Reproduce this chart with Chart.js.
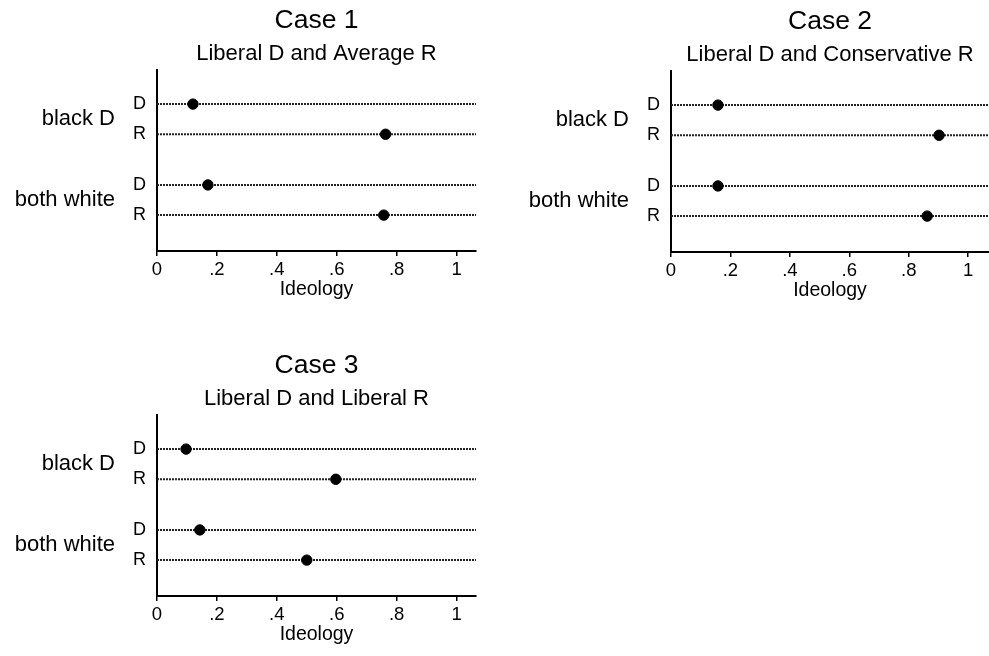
<!DOCTYPE html>
<html>
<head>
<meta charset="utf-8">
<script src="https://cdn.jsdelivr.net/npm/chart.js@4.4.1/dist/chart.umd.min.js"></script>
<style>
body { margin: 0; background: #fff; }
.panel { position: absolute; }
</style>
</head>
<body>
<div class="panel" style="left:0px;top:0px"><canvas id="graph0" width="490" height="310"></canvas></div>
<div class="panel" style="left:500px;top:1px"><canvas id="graph1" width="489" height="310"></canvas></div>
<div class="panel" style="left:0px;top:345px"><canvas id="graph2" width="490" height="310"></canvas></div>
<script>
var rowLabels = ['D', 'R', 'D', 'R'];
var groupLabels = ['black D', 'both white'];
var titles = ['Case 1', 'Case 2', 'Case 3'];
var subtitles = ['Liberal D and Average R', 'Liberal D and Conservative R', 'Liberal D and Liberal R'];
var xTickVals = [0, 0.2, 0.4, 0.6, 0.8, 1];
var xTickLabels = ['0', '.2', '.4', '.6', '.8', '1'];
// ideology per row: black D (D, R), both white (D, R)
var case1 = [0.12, 0.763, 0.17, 0.757];
var case2 = [0.158, 0.902, 0.158, 0.862];
var case3 = [0.097, 0.597, 0.143, 0.50];

var rowY = [4.87, 3.87, 2.19, 1.19]; // where each row sits on the 0-6 y scale
var fontFam = '"Liberation Sans", Arial, Helvetica, sans-serif';
var ink = '#000';

// titles and the group labels left of D/R
const labelPlugin = {
    id: 'labels',
    afterDraw(chart, args, opts) {
        const ctx = chart.ctx, area = chart.chartArea, y = chart.scales.y;
        const mid = (area.left + area.right) / 2;
        ctx.save();
        ctx.fillStyle = ink;
        ctx.textAlign = 'center';
        ctx.textBaseline = 'alphabetic';
        ctx.font = '26.5px ' + fontFam;
        ctx.fillText(opts.title, mid, 28);
        ctx.font = '22px ' + fontFam;
        ctx.fillText(opts.subtitle, mid, 60);
        ctx.textAlign = 'right';
        ctx.textBaseline = 'middle';
        for (let g = 0; g < groupLabels.length; g++) {
            const py = (y.getPixelForValue(rowY[2 * g]) + y.getPixelForValue(rowY[2 * g + 1])) / 2;
            ctx.fillText(groupLabels[g], area.left - 42, py);
        }
        ctx.restore();
    }
};

function graph(i, values, xMax, yWidth, padRight) {
    const datasets = [{
        data: values.map((v, k) => ({x: v, y: rowY[k]})),
        pointRadius: 5.2,
        pointHoverRadius: 5.2,
        borderWidth: 1,
        backgroundColor: '#000',
        borderColor: '#000',
        showLine: false
    }];
    rowY.forEach(r => {
        datasets.push({
            data: [{x: 0, y: r}, {x: xMax, y: r}],
            showLine: true,
            pointRadius: 0,
            borderColor: '#222',
            borderWidth: 2,
            borderDash: [2, 1]
        });
    });

    new Chart(document.getElementById('graph' + i), {
        type: 'scatter',
        data: {datasets: datasets},
        plugins: [labelPlugin],
        options: {
            responsive: false,
            animation: false,
            devicePixelRatio: 1,
            layout: {autoPadding: false, padding: {top: 70, right: padRight, left: 0, bottom: 0}},
            plugins: {
                legend: {display: false},
                tooltip: {enabled: false},
                labels: {title: titles[i], subtitle: subtitles[i]}
            },
            scales: {
                x: {
                    min: 0,
                    max: xMax,
                    afterBuildTicks: s => { s.ticks = xTickVals.map(v => ({value: v})); },
                    afterFit: s => { s.height = 59; },
                    ticks: {
                        callback: (v, k) => xTickLabels[k],
                        font: {size: 18.5, family: fontFam},
                        color: ink,
                        padding: 3,
                        maxRotation: 0,
                        autoSkip: false
                    },
                    grid: {drawOnChartArea: false, drawTicks: true, tickLength: 5, color: '#000', lineWidth: 1.5},
                    border: {color: '#000', width: 2},
                    title: {display: true, text: 'Ideology', color: ink,
                        font: {size: 19.5, family: fontFam}, padding: {top: 0, bottom: 9}}
                },
                y: {
                    min: 0,
                    max: 6,
                    afterBuildTicks: s => { s.ticks = rowY.map(v => ({value: v})); },
                    afterFit: s => { s.width = yWidth; },
                    ticks: {
                        callback: (v, k) => rowLabels[k],
                        font: {size: 18, family: fontFam},
                        color: ink,
                        padding: 11
                    },
                    grid: {display: false, drawTicks: false},
                    border: {color: '#000', width: 2}
                }
            }
        }
    });
}

graph(0, case1, 1.065, 157, 14);
graph(1, case2, 1.07, 171, 0);
graph(2, case3, 1.065, 157, 14);
</script>
</body>
</html>
